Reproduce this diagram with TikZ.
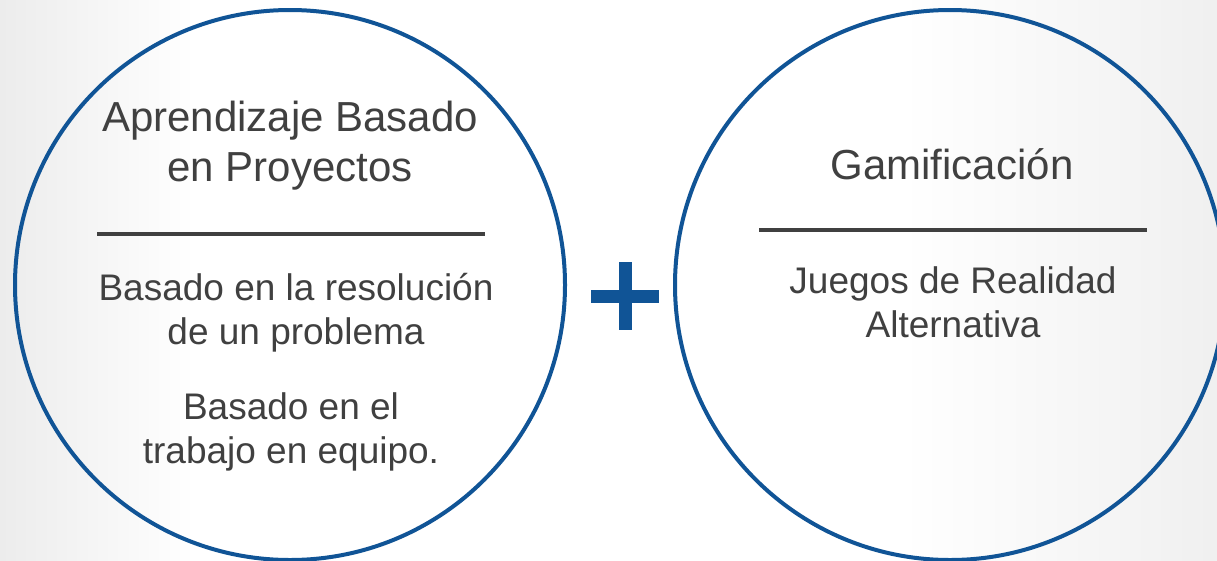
\documentclass[tikz,border=0pt]{standalone}
\usepackage{fontspec}
\setmainfont{Liberation Sans}
\usetikzlibrary{positioning}
\definecolor{ppblue}{RGB}{16,84,150}
\definecolor{pptext}{RGB}{64,64,64}
\definecolor{ppback}{RGB}{236,236,236}
\pgfdeclarehorizontalshading{ppglow}{100bp}{%
    color(0bp)=(ppback); color(25bp)=(ppback); color(33bp)=(white);
    color(62bp)=(white); color(75bp)=(ppback!80!white); color(100bp)=(ppback)}
\tikzset{
    % Big outlined circle
    bigcircle/.style={
        circle, draw=ppblue, line width=4pt,
        minimum size=550pt, inner sep=0pt
    },
    % Texts inside the circles
    titletext/.style={text=pptext, align=center, font=\fontsize{42}{50}\selectfont},
    bodytext/.style={text=pptext, align=center, font=\fontsize{37}{44}\selectfont},
    % Separator under the title
    seprule/.style={draw=pptext, line width=3.5pt},
}
\begin{document}
\begin{tikzpicture}[x=1pt,y=-1pt]
      \shade[shading=ppglow] (0,0) rectangle (1217,560);
      \useasboundingbox (0,0) rectangle (1217,560);
      % left circle
      \node[bigcircle] (abp) at (290,285) {};
      \node[titletext] (abptitle) at (290,146) {Aprendizaje Basado\\en Proyectos};
      \coordinate (abpruleL) at (97,234);
      \coordinate (abpruleR) at (485,234);
      \draw[seprule] (abpruleL) -- (abpruleR);
      \node[bodytext] (abpres) at (296,313) {Basado en la resolución\\de un problema};
      \node[bodytext] (abpteam) at (291,432) {Basado en el\\trabajo en equipo.};
      % plus sign
      \fill[ppblue] (591,290) rectangle (659,303);
      \fill[ppblue] (619,262) rectangle (632,330);
      % right circle
      \node[bigcircle] (gam) at (950,285) {};
      \node[titletext, anchor=base] (gamtitle) at (952,179) {Gamificación};
      \coordinate (gamruleL) at (759,230);
      \coordinate (gamruleR) at (1147,230);
      \draw[seprule] (gamruleL) -- (gamruleR);
      \node[bodytext] (gamalt) at (953,302) {Juegos de Realidad\\Alternativa};
\end{tikzpicture}
\end{document}
